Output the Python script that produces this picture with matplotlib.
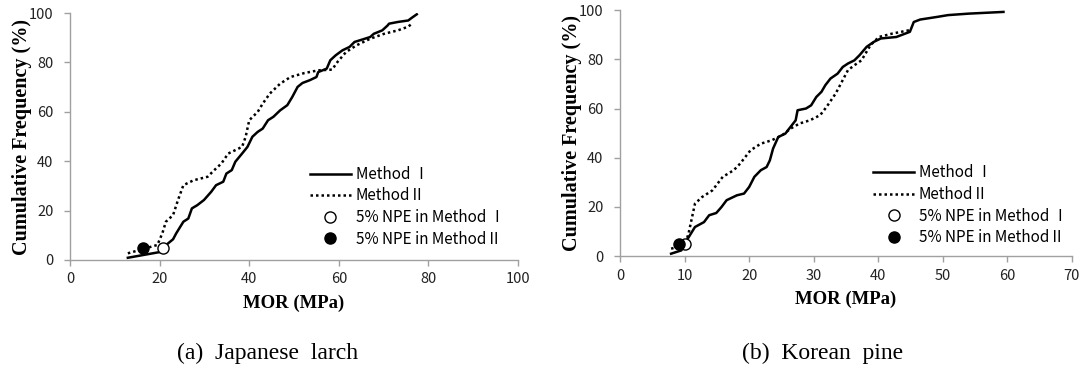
import matplotlib
matplotlib.use('Agg')
import matplotlib.pyplot as plt

plt.rcParams['font.family'] = ['Noto Sans CJK KR', 'DejaVu Sans']

# (a) Japanese larch
larch_m1_x = [12.9, 20.6, 21.4, 23.0, 23.7, 25.3, 26.4, 27.2, 28.4, 29.9, 31.5, 32.6, 34.2, 34.9,
              36.1, 36.9, 38.4, 39.6, 40.7, 41.9, 43.0, 44.2, 45.4, 46.9, 48.5, 49.6, 50.8, 51.9,
              53.5, 55.0, 55.4, 57.3, 58.1, 59.3, 60.8, 62.4, 63.5, 65.1, 67.0, 67.8, 69.7, 70.9,
              71.2, 73.2, 75.5, 76.3, 77.4]
larch_m1_y = [0.9, 3.4, 6.0, 8.4, 10.8, 15.5, 16.8, 20.9, 22.2, 24.3, 27.6, 30.3, 31.7, 35.0,
              36.4, 39.8, 43.1, 45.8, 49.9, 51.9, 53.2, 56.6, 58.0, 60.6, 62.7, 66.0, 70.1, 71.7,
              72.8, 74.1, 76.1, 77.5, 80.9, 82.9, 84.9, 86.3, 88.3, 89.2, 90.3, 91.6, 93.0, 95.0,
              95.7, 96.4, 97.0, 98.1, 99.5]
larch_m2_x = [12.9, 16.8, 19.5, 20.6, 21.4, 23.0, 24.1, 25.3, 27.6, 30.7, 32.2, 33.8, 35.3, 38.4,
              39.2, 40.0, 41.9, 43.0, 44.6, 46.9, 49.2, 52.3, 55.4, 58.5, 59.7, 61.6, 63.9, 67.0,
              70.1, 73.2, 75.5, 76.5]
larch_m2_y = [2.7, 4.7, 6.1, 10.8, 15.5, 18.2, 24.3, 30.3, 32.3, 33.7, 36.4, 39.1, 43.1, 45.8,
              49.9, 56.6, 60.0, 63.3, 67.4, 71.4, 74.1, 75.7, 76.8, 77.1, 80.2, 84.2, 86.9, 89.6,
              91.6, 93.0, 94.5, 96.0]
larch_npe1 = (20.7, 5.0)
larch_npe2 = (16.3, 5.0)

# (b) Korean pine
pine_m1_x = [7.9, 9.5, 10.0, 10.8, 11.6, 13.0, 13.8, 14.9, 15.7, 16.5, 18.1, 19.2, 20.0, 20.8,
             21.8, 22.7, 23.2, 23.7, 24.5, 25.6, 26.4, 27.2, 27.5, 28.8, 29.6, 30.4, 31.2, 31.8,
             32.6, 33.7, 34.5, 35.3, 36.3, 37.1, 38.2, 39.3, 40.4, 42.8, 44.9, 45.5, 46.5, 49.2,
             50.8, 54.0, 59.4]
pine_m1_y = [0.95, 2.3, 5.0, 8.4, 11.8, 13.8, 16.6, 17.5, 19.9, 22.7, 24.7, 25.4, 28.1, 32.2,
             34.9, 36.2, 38.9, 43.7, 48.4, 49.8, 52.5, 55.2, 59.3, 60.0, 61.3, 64.7, 66.8, 69.5,
             72.2, 74.2, 76.9, 78.3, 79.6, 81.7, 85.1, 87.1, 88.5, 89.1, 91.2, 95.2, 96.2, 97.3,
             98.0, 98.6, 99.3]
pine_m2_x = [7.9, 10.0, 10.6, 11.6, 12.7, 14.3, 15.9, 17.6, 18.6, 20.2, 21.8, 23.5, 25.1, 26.4,
             27.8, 29.4, 31.0, 32.0, 33.4, 34.2, 35.3, 36.3, 37.4, 38.8, 40.1, 42.2, 44.9]
pine_m2_y = [3.0, 4.3, 9.1, 21.3, 24.0, 26.7, 32.2, 34.9, 37.6, 43.0, 45.7, 47.1, 49.1, 51.8,
             53.9, 55.2, 57.3, 60.7, 66.1, 70.1, 75.6, 77.6, 79.6, 85.8, 89.1, 90.5, 91.9]
pine_npe1 = (10.1, 5.0)
pine_npe2 = (9.2, 5.0)

labels = ['Method Ⅰ', 'MethodⅡ', '5% NPE in Method Ⅰ', '5% NPE in MethodⅡ']
captions = ['(a)  Japanese  larch', '(b)  Korean  pine']

fig = plt.figure(figsize=(10.86, 3.68), dpi=100)
ax1 = fig.add_axes([0.0645, 0.2935, 0.4125, 0.671])
ax2 = fig.add_axes([0.571, 0.3043, 0.416, 0.668])

panels = [
    (ax1, larch_m1_x, larch_m1_y, larch_m2_x, larch_m2_y, larch_npe1, larch_npe2,
     100, 20, (0.535, 0.05)),
    (ax2, pine_m1_x, pine_m1_y, pine_m2_x, pine_m2_y, pine_npe1, pine_npe2,
     70, 10, (0.56, 0.04)),
]

for ax, x1, y1, x2, y2, p1, p2, xmax, xstep, lpos in panels:
    ax.plot(x1, y1, color='black', lw=1.8, ls='-', label=labels[0])
    ax.plot(x2, y2, color='black', lw=1.8, ls=(0, (1, 1.2)), label=labels[1])
    ax.plot([p1[0]], [p1[1]], 'o', mfc='white', mec='black', ms=8, mew=1.0,
            label=labels[2], zorder=5)
    ax.plot([p2[0]], [p2[1]], 'o', mfc='black', mec='black', ms=8,
            label=labels[3], zorder=5)
    ax.set_xlim(0, xmax)
    ax.set_ylim(0, 100)
    ax.set_xticks(range(0, xmax + 1, xstep))
    ax.set_yticks(range(0, 101, 20))
    for s in ['top', 'right']:
        ax.spines[s].set_visible(False)
    for s in ['left', 'bottom']:
        ax.spines[s].set_color('#a0a0a0')
        ax.spines[s].set_linewidth(1.0)
    ax.tick_params(direction='out', length=4, width=1.0, color='#a0a0a0',
                   labelsize=10.5, labelcolor='#222222')
    ax.tick_params(axis='y', pad=8)
    ax.tick_params(axis='x', pad=5)
    ax.set_xlabel('MOR (MPa)', family='Liberation Serif', fontweight='bold',
                  fontsize=13.5, labelpad=6)
    ax.set_ylabel('Cumulative Frequency (%)', family='Liberation Serif',
                  fontweight='bold', fontsize=14.5, labelpad=-2)
    ax.legend(loc='lower left', bbox_to_anchor=lpos, frameon=False, fontsize=11,
              handlelength=2.7, handletextpad=0.3, labelspacing=0.3, borderpad=0,
              borderaxespad=0)

fig.text(0.246, 0.0245, captions[0], family='Liberation Serif', fontsize=17,
         ha='center', va='baseline')
fig.text(0.757, 0.0245, captions[1], family='Liberation Serif', fontsize=17,
         ha='center', va='baseline')

fig.savefig('out.png', dpi=100)
